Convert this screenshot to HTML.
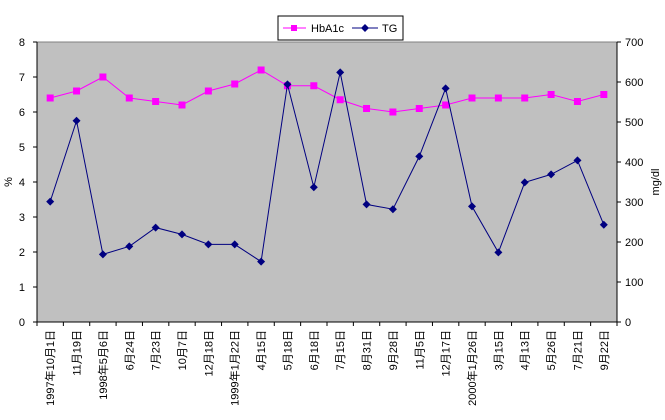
<!DOCTYPE html>
<html><head><meta charset="utf-8"><style>
body{margin:0;background:#fff;}
svg text{font-family:"Liberation Sans","Noto Sans CJK JP",sans-serif;font-size:11px;fill:#000;}
</style></head><body>
<svg id="chart" width="665" height="415">
<rect x="37" y="42" width="580" height="280" fill="#c0c0c0" stroke="#808080"/>
<g id="axes"></g><g id="series"></g>
<g>
<rect x="278" y="16" width="125" height="24" fill="#fff" stroke="#000"/>
<line x1="283" y1="28" x2="306" y2="28" stroke="#ff00ff"/><rect x="291" y="25" width="6" height="6" fill="#ff00ff"/>
<text x="311" y="32">HbA1c</text>
<line x1="352" y1="28" x2="378" y2="28" stroke="#000080"/><path d="M365 24L369 28L365 32L361 28Z" fill="#000080"/>
<text x="382" y="32">TG</text>
</g>
<text transform="translate(12,182) rotate(-90)" text-anchor="middle">%</text>
<text transform="translate(659,182) rotate(-90)" text-anchor="middle">mg/dl</text>
</svg>
<script>
const categories=["1997年10月1日","11月19日","1998年5月6日","6月24日","7月23日","10月7日","12月18日","1999年1月22日","4月15日","5月18日","6月18日","7月15日","8月31日","9月28日","11月5日","12月17日","2000年1月26日","3月15日","4月13日","5月26日","7月21日","9月22日"];
const hba1c=[6.4,6.6,7.0,6.4,6.3,6.2,6.6,6.8,7.2,6.75,6.75,6.35,6.1,6.0,6.1,6.2,6.4,6.4,6.4,6.5,6.3,6.5];
const tg=[301,503,169,189,236,219,194,194,151,594,337,624,294,282,414,584,289,174,349,369,404,243];
const leftTicks=[0,1,2,3,4,5,6,7,8];
const rightTicks=[0,100,200,300,400,500,600,700];
const NS="http://www.w3.org/2000/svg";
const L=37,R=617,T=42,B=322;
const cw=(R-L)/categories.length;
const xPos=i=>L+cw*(i+0.5);
const yL=v=>B-(v/8)*(B-T);
const yR=v=>B-(v/700)*(B-T);
function mk(tag,attrs,parent){const e=document.createElementNS(NS,tag);for(const k in attrs)e.setAttribute(k,attrs[k]);parent.appendChild(e);return e;}
const ax=document.getElementById('axes'),se=document.getElementById('series');
leftTicks.forEach(v=>{const y=yL(v);
 mk('line',{x1:L-4,y1:y,x2:L,y2:y,stroke:'#000'},ax);
 const t=mk('text',{x:L-12,y:y+4,'text-anchor':'end'},ax);t.textContent=v;
 
 });
rightTicks.forEach(v=>{const y=yR(v);
 mk('line',{x1:R,y1:y,x2:R+4,y2:y,stroke:'#000'},ax);
 const t=mk('text',{x:R+8,y:y+4},ax);t.textContent=v;
 
 });
for(let i=0;i<=categories.length;i++){const x=L+cw*i;mk('line',{x1:x,y1:B,x2:x,y2:B+4,stroke:'#000'},ax);}
mk('line',{x1:L,y1:B,x2:R,y2:B,stroke:'#000'},ax);
mk('line',{x1:L,y1:T,x2:L,y2:B,stroke:'#000'},ax);
mk('line',{x1:R,y1:T,x2:R,y2:B,stroke:'#000'},ax);
categories.forEach((c,i)=>{const x=xPos(i)+4;
 const t=mk('text',{transform:`translate(${x},${B+8}) rotate(-90)`,'text-anchor':'end'},ax);t.textContent=c;
 
 });
const p1=mk('polyline',{points:hba1c.map((v,i)=>xPos(i)+','+yL(v)).join(' '),fill:'none',stroke:'#ff00ff'},se);


hba1c.forEach((v,i)=>{const r=mk('rect',{x:xPos(i)-3.5,y:yL(v)-3.5,width:7,height:7,fill:'#ff00ff'},se);
 
 });
const p2=mk('polyline',{points:tg.map((v,i)=>xPos(i)+','+yR(v)).join(' '),fill:'none',stroke:'#000080'},se);


tg.forEach((v,i)=>{const x=xPos(i),y=yR(v);const d=mk('path',{d:`M${x} ${y-4}L${x+4} ${y}L${x} ${y+4}L${x-4} ${y}Z`,fill:'#000080'},se);
 
 });
</script>
</body></html>
